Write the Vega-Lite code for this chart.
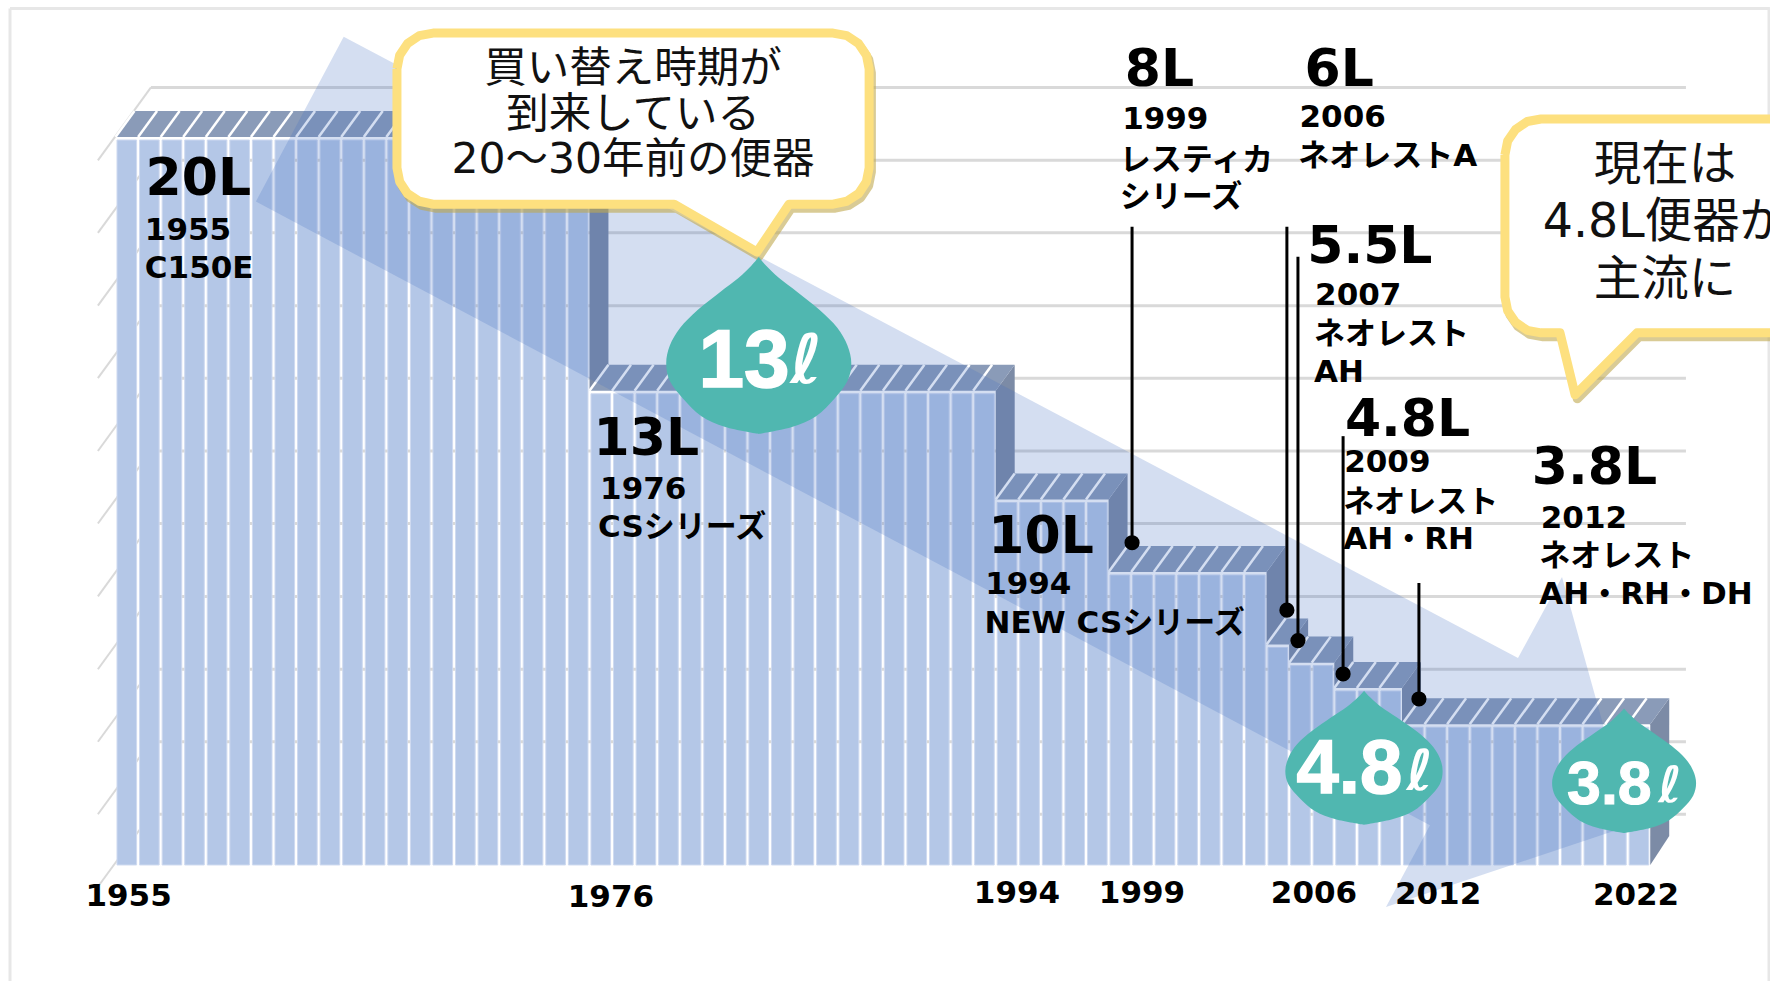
{"$schema":"https://vega.github.io/schema/vega-lite/v6.json","width":1770,"height":981,"padding":0,"autosize":{"type":"none"},"background":"white","config":{"axis":{"disable":true},"view":{"stroke":null}},
"datasets":{
"bars":[{"year":1955,"litres":20},{"year":1956,"litres":20},{"year":1957,"litres":20},{"year":1958,"litres":20},{"year":1959,"litres":20},{"year":1960,"litres":20},{"year":1961,"litres":20},{"year":1962,"litres":20},{"year":1963,"litres":20},{"year":1964,"litres":20},{"year":1965,"litres":20},{"year":1966,"litres":20},{"year":1967,"litres":20},{"year":1968,"litres":20},{"year":1969,"litres":20},{"year":1970,"litres":20},{"year":1971,"litres":20},{"year":1972,"litres":20},{"year":1973,"litres":20},{"year":1974,"litres":20},{"year":1975,"litres":20},{"year":1976,"litres":13},{"year":1977,"litres":13},{"year":1978,"litres":13},{"year":1979,"litres":13},{"year":1980,"litres":13},{"year":1981,"litres":13},{"year":1982,"litres":13},{"year":1983,"litres":13},{"year":1984,"litres":13},{"year":1985,"litres":13},{"year":1986,"litres":13},{"year":1987,"litres":13},{"year":1988,"litres":13},{"year":1989,"litres":13},{"year":1990,"litres":13},{"year":1991,"litres":13},{"year":1992,"litres":13},{"year":1993,"litres":13},{"year":1994,"litres":10},{"year":1995,"litres":10},{"year":1996,"litres":10},{"year":1997,"litres":10},{"year":1998,"litres":10},{"year":1999,"litres":8},{"year":2000,"litres":8},{"year":2001,"litres":8},{"year":2002,"litres":8},{"year":2003,"litres":8},{"year":2004,"litres":8},{"year":2005,"litres":8},{"year":2006,"litres":6},{"year":2007,"litres":5.5},{"year":2008,"litres":5.5},{"year":2009,"litres":4.8},{"year":2010,"litres":4.8},{"year":2011,"litres":4.8},{"year":2012,"litres":3.8},{"year":2013,"litres":3.8},{"year":2014,"litres":3.8},{"year":2015,"litres":3.8},{"year":2016,"litres":3.8},{"year":2017,"litres":3.8},{"year":2018,"litres":3.8},{"year":2019,"litres":3.8},{"year":2020,"litres":3.8},{"year":2021,"litres":3.8},{"year":2022,"litres":3.8}],
"grid":[{"wall":21.45,"front":19.44},{"wall":19.44,"front":17.44},{"wall":17.44,"front":15.43},{"wall":15.43,"front":13.43},{"wall":13.43,"front":11.42},{"wall":11.42,"front":9.42},{"wall":9.42,"front":7.41},{"wall":7.41,"front":5.40},{"wall":5.40,"front":3.40},{"wall":3.40,"front":1.40},{"wall":1.40,"front":-0.60}],
"sides":[{"face":"a","x":1975.5,"low":13.08,"high":20.08},{"face":"a","x":1976.34,"low":13.8,"high":20.8},{"face":"b","x":1993.5,"low":10.08,"high":13.08},{"face":"b","x":1994.34,"low":10.8,"high":13.8},{"face":"c","x":1998.5,"low":8.08,"high":10.08},{"face":"c","x":1999.34,"low":8.8,"high":10.8},{"face":"d","x":2005.5,"low":6.08,"high":8.08},{"face":"d","x":2006.34,"low":6.8,"high":8.8},{"face":"e","x":2006.5,"low":5.58,"high":6.08},{"face":"e","x":2007.34,"low":6.3,"high":6.8},{"face":"f","x":2008.5,"low":4.88,"high":5.58},{"face":"f","x":2009.34,"low":5.6,"high":6.3},{"face":"g","x":2011.5,"low":3.88,"high":4.88},{"face":"g","x":2012.34,"low":4.6,"high":5.6},{"face":"h","x":2022.5,"low":0,"high":3.88},{"face":"h","x":2023.34,"low":0.8,"high":4.6}],
"tops":[{"step":"20L","lit":20.08,"xa":1954.5,"xb":1975.5},{"step":"20L","lit":20.8,"xa":1955.34,"xb":1976.34},{"step":"13L","lit":13.08,"xa":1975.5,"xb":1993.5},{"step":"13L","lit":13.8,"xa":1976.34,"xb":1994.34},{"step":"10L","lit":10.08,"xa":1993.5,"xb":1998.5},{"step":"10L","lit":10.8,"xa":1994.34,"xb":1999.34},{"step":"8L","lit":8.08,"xa":1998.5,"xb":2005.5},{"step":"8L","lit":8.8,"xa":1999.34,"xb":2006.34},{"step":"6L","lit":6.08,"xa":2005.5,"xb":2006.5},{"step":"6L","lit":6.8,"xa":2006.34,"xb":2007.34},{"step":"5.5L","lit":5.58,"xa":2006.5,"xb":2008.5},{"step":"5.5L","lit":6.3,"xa":2007.34,"xb":2009.34},{"step":"4.8L","lit":4.88,"xa":2008.5,"xb":2011.5},{"step":"4.8L","lit":5.6,"xa":2009.34,"xb":2012.34},{"step":"3.8L","lit":3.88,"xa":2011.5,"xb":2022.5},{"step":"3.8L","lit":4.6,"xa":2012.34,"xb":2023.34}],
"arrow":[{"i":1,"x":1964.61,"y":22.85},{"i":2,"x":2016.64,"y":5.71},{"i":3,"x":2018.59,"y":7.945},{"i":4,"x":2021.65,"y":1.10},{"i":5,"x":2010.79,"y":-1.16},{"i":6,"x":2012.74,"y":1.10},{"i":7,"x":1960.72,"y":18.30},{"i":8,"x":1964.61,"y":22.85}],
"callouts":[{"c":"a","i":1,"x":1966.97,"y":21.96},{"c":"a","i":2,"x":1967.09,"y":22.34},{"c":"a","i":3,"x":1967.44,"y":22.66},{"c":"a","i":4,"x":1967.96,"y":22.88},{"c":"a","i":5,"x":1968.57,"y":22.95},{"c":"a","i":6,"x":1986.29,"y":22.95},{"c":"a","i":7,"x":1986.90,"y":22.88},{"c":"a","i":8,"x":1987.42,"y":22.66},{"c":"a","i":9,"x":1987.77,"y":22.34},{"c":"a","i":10,"x":1987.89,"y":21.96},{"c":"a","i":11,"x":1987.89,"y":19.23},{"c":"a","i":12,"x":1987.77,"y":18.85},{"c":"a","i":13,"x":1987.42,"y":18.52},{"c":"a","i":14,"x":1986.90,"y":18.31},{"c":"a","i":15,"x":1986.29,"y":18.23},{"c":"a","i":16,"x":1984.34,"y":18.23},{"c":"a","i":17,"x":1982.92,"y":16.91},{"c":"a","i":18,"x":1979.25,"y":18.23},{"c":"a","i":19,"x":1968.57,"y":18.23},{"c":"a","i":20,"x":1967.96,"y":18.31},{"c":"a","i":21,"x":1967.44,"y":18.52},{"c":"a","i":22,"x":1967.09,"y":18.85},{"c":"a","i":23,"x":1966.97,"y":19.23},{"c":"a","i":24,"x":1966.97,"y":21.96},
{"c":"b","i":1,"x":2016.06,"y":19.59},{"c":"b","i":2,"x":2016.18,"y":19.97},{"c":"b","i":3,"x":2016.53,"y":20.29},{"c":"b","i":4,"x":2017.05,"y":20.51},{"c":"b","i":5,"x":2017.66,"y":20.58},{"c":"b","i":6,"x":2029.14,"y":20.58},{"c":"b","i":7,"x":2029.14,"y":14.68},{"c":"b","i":8,"x":2021.91,"y":14.68},{"c":"b","i":9,"x":2019.17,"y":12.97},{"c":"b","i":10,"x":2018.50,"y":14.68},{"c":"b","i":11,"x":2017.66,"y":14.68},{"c":"b","i":12,"x":2017.05,"y":14.75},{"c":"b","i":13,"x":2016.53,"y":14.97},{"c":"b","i":14,"x":2016.18,"y":15.29},{"c":"b","i":15,"x":2016.06,"y":15.67},{"c":"b","i":16,"x":2016.06,"y":19.59}],
"drops":[{"d":"a","y":16.77,"x1":1983.00,"x2":1983.00},{"d":"a","y":16.53,"x1":1982.67,"x2":1983.33},{"d":"a","y":16.19,"x1":1982.10,"x2":1983.90},{"d":"a","y":15.80,"x1":1981.28,"x2":1984.72},{"d":"a","y":15.31,"x1":1980.29,"x2":1985.70},{"d":"a","y":14.82,"x1":1979.52,"x2":1986.48},{"d":"a","y":14.33,"x1":1979.06,"x2":1986.93},{"d":"a","y":13.84,"x1":1978.90,"x2":1987.10},{"d":"a","y":13.35,"x1":1979.06,"x2":1986.93},{"d":"a","y":12.87,"x1":1979.64,"x2":1986.36},{"d":"a","y":12.38,"x1":1980.46,"x2":1985.54},{"d":"a","y":12.08,"x1":1981.52,"x2":1984.47},{"d":"a","y":11.89,"x1":1983.00,"x2":1983.00},
{"d":"b","y":4.81,"x1":2009.82,"x2":2009.82},{"d":"b","y":4.62,"x1":2009.54,"x2":2010.10},{"d":"b","y":4.36,"x1":2009.05,"x2":2010.58},{"d":"b","y":4.07,"x1":2008.35,"x2":2011.28},{"d":"b","y":3.70,"x1":2007.52,"x2":2012.12},{"d":"b","y":3.33,"x1":2006.85,"x2":2012.78},{"d":"b","y":2.96,"x1":2006.47,"x2":2013.17},{"d":"b","y":2.59,"x1":2006.33,"x2":2013.30},{"d":"b","y":2.22,"x1":2006.47,"x2":2013.17},{"d":"b","y":1.85,"x1":2006.96,"x2":2012.68},{"d":"b","y":1.48,"x1":2007.66,"x2":2011.98},{"d":"b","y":1.26,"x1":2008.56,"x2":2011.07},{"d":"b","y":1.11,"x1":2009.82,"x2":2009.82},
{"d":"c","y":4.32,"x1":2021.34,"x2":2021.34},{"d":"c","y":4.15,"x1":2021.08,"x2":2021.59},{"d":"c","y":3.90,"x1":2020.64,"x2":2022.04},{"d":"c","y":3.63,"x1":2020.00,"x2":2022.68},{"d":"c","y":3.29,"x1":2019.23,"x2":2023.44},{"d":"c","y":2.94,"x1":2018.63,"x2":2024.05},{"d":"c","y":2.60,"x1":2018.28,"x2":2024.40},{"d":"c","y":2.26,"x1":2018.15,"x2":2024.53},{"d":"c","y":1.91,"x1":2018.28,"x2":2024.40},{"d":"c","y":1.57,"x1":2018.72,"x2":2023.96},{"d":"c","y":1.23,"x1":2019.36,"x2":2023.32},{"d":"c","y":1.02,"x1":2020.19,"x2":2022.49},{"d":"c","y":0.88,"x1":2021.34,"x2":2021.34}],
"leaders":[{"x":1999.54,"top":17.61,"dot":8.89},{"x":2006.40,"top":17.61,"dot":7.03},{"x":2006.89,"top":16.78,"dot":6.19},{"x":2008.89,"top":11.83,"dot":5.27},{"x":2012.25,"top":7.78,"dot":4.58}],
"big":[{"t":"20L","x":1955.83,"y":18.48},{"t":"13L","x":1975.68,"y":11.31},{"t":"10L","x":1993.17,"y":8.61},{"t":"8L","x":1999.22,"y":21.50},{"t":"6L","x":2007.18,"y":21.50},{"t":"5.5L","x":2007.30,"y":16.61},{"t":"4.8L","x":2008.97,"y":11.83},{"t":"3.8L","x":2017.25,"y":10.51}],
"small":[{"t":"1955","x":1955.80,"y":17.25},{"t":"C150E","x":1955.80,"y":16.20},{"t":"1976","x":1975.97,"y":10.10},{"t":"CSシリーズ","x":1975.88,"y":9.05},{"t":"1994","x":1993.03,"y":7.48},{"t":"NEW CSシリーズ","x":1993.00,"y":6.40},{"t":"1999","x":1999.10,"y":20.29},{"t":"レスティカ","x":1999.00,"y":19.18},{"t":"シリーズ","x":1999.00,"y":18.15},{"t":"2006","x":2006.96,"y":20.36},{"t":"ネオレストA","x":2006.90,"y":19.28},{"t":"2007","x":2007.65,"y":15.46},{"t":"ネオレスト","x":2007.60,"y":14.38},{"t":"AH","x":2007.60,"y":13.32},{"t":"2009","x":2008.94,"y":10.84},{"t":"ネオレスト","x":2008.90,"y":9.74},{"t":"AH・RH","x":2008.90,"y":8.72},{"t":"2012","x":2017.65,"y":9.30},{"t":"ネオレスト","x":2017.58,"y":8.25},{"t":"AH・RH・DH","x":2017.58,"y":7.20}],
"ticks":[{"t":"1955","x":1955.08,"y":-1.13},{"t":"1976","x":1976.45,"y":-1.16},{"t":"1994","x":1994.44,"y":-1.05},{"t":"1999","x":1999.98,"y":-1.05},{"t":"2006","x":2007.60,"y":-1.05},{"t":"2012","x":2013.10,"y":-1.08},{"t":"2022","x":2021.87,"y":-1.09}],
"say1":[{"t":"買い替え時期が","x":1977.43,"y":21.60},{"t":"到来している","x":1977.43,"y":20.33},{"t":"20～30年前の便器","x":1977.43,"y":19.09}],
"say2":[{"t":"現在は","x":2023.15,"y":18.90},{"t":"4.8L便器が","x":2023.15,"y":17.33},{"t":"主流に","x":2023.15,"y":15.72}],
"frame":[{"x":1949.825,"x2":2027.8,"y":23.63,"y2":23.63},{"x":1949.825,"x2":1949.825,"y":23.63,"y2":-3.2},{"x":2027.76,"x2":2027.76,"y":23.63,"y2":-3.2}]
},
"layer":[
{"data":{"name":"frame"},"mark":{"type":"rule","color":"#e7e7e7","strokeWidth":3},"encoding":{"x":{"field":"x","type":"quantitative","scale":{"domain":[1949.382,2027.805],"nice":false,"zero":false,"padding":0}},"x2":{"field":"x2"},"y":{"field":"y","type":"quantitative","scale":{"domain":[-3.2,23.862],"nice":false,"zero":false,"padding":0}},"y2":{"field":"y2"}}},
{"data":{"name":"grid"},"mark":{"type":"rule","color":"#d9d9d9","strokeWidth":3},"encoding":{"x":{"datum":1956.07,"type":"quantitative"},"x2":{"datum":2024.08},"y":{"field":"wall","type":"quantitative"}}},
{"data":{"name":"grid"},"mark":{"type":"rule","color":"#d9d9d9","strokeWidth":2},"encoding":{"x":{"datum":1956.07,"type":"quantitative"},"x2":{"datum":1953.72},"y":{"field":"wall","type":"quantitative"},"y2":{"field":"front"}}},
{"data":{"name":"sides"},"mark":{"type":"area","orient":"vertical","color":"#7c8ba6"},"encoding":{"x":{"field":"x","type":"quantitative"},"y":{"field":"low","type":"quantitative"},"y2":{"field":"high"},"detail":{"field":"face"}}},
{"data":{"name":"tops"},"mark":{"type":"area","orient":"horizontal","color":"#8a9bb8"},"encoding":{"y":{"field":"lit","type":"quantitative"},"x":{"field":"xa","type":"quantitative"},"x2":{"field":"xb"},"detail":{"field":"step"}}},
{"data":{"name":"bars"},"transform":[{"calculate":"datum.year-0.5","as":"edge"},{"calculate":"datum.year+0.34","as":"edgeBack"},{"calculate":"datum.litres+0.08","as":"lo"},{"calculate":"datum.litres+0.8","as":"hi"}],"mark":{"type":"rule","color":"#ffffff","strokeWidth":2.5},"encoding":{"x":{"field":"edge","type":"quantitative"},"x2":{"field":"edgeBack"},"y":{"field":"lo","type":"quantitative"},"y2":{"field":"hi"}}},
{"data":{"name":"bars"},"mark":{"type":"bar","orient":"vertical","width":19.6,"color":"#b4c7e7","stroke":"#cfdaf0","strokeWidth":1},"encoding":{"x":{"field":"year","type":"quantitative"},"y":{"field":"litres","type":"quantitative","stack":null},"y2":{"datum":0}}},
{"data":{"name":"arrow"},"mark":{"type":"line","fill":"#4472c4","fillOpacity":0.23,"strokeOpacity":0,"strokeWidth":0},"encoding":{"x":{"field":"x","type":"quantitative"},"y":{"field":"y","type":"quantitative"},"order":{"field":"i"}}},
{"data":{"name":"leaders"},"mark":{"type":"rule","color":"#000000","strokeWidth":3},"encoding":{"x":{"field":"x","type":"quantitative"},"y":{"field":"top","type":"quantitative"},"y2":{"field":"dot"}}},
{"data":{"name":"leaders"},"mark":{"type":"point","filled":true,"color":"#000000","opacity":1,"size":230},"encoding":{"x":{"field":"x","type":"quantitative"},"y":{"field":"dot","type":"quantitative"}}},
{"data":{"name":"callouts"},"transform":[{"calculate":"datum.x+0.1","as":"sx"},{"calculate":"datum.y-0.11","as":"sy"}],"mark":{"type":"line","clip":true,"stroke":"#bfa94f","strokeOpacity":0.6,"strokeWidth":9,"strokeJoin":"round"},"encoding":{"x":{"field":"sx","type":"quantitative"},"y":{"field":"sy","type":"quantitative"},"order":{"field":"i"},"detail":{"field":"c"}}},
{"data":{"name":"callouts"},"mark":{"type":"line","clip":true,"fill":"#ffffff","stroke":"#fde07f","strokeWidth":9,"strokeJoin":"round"},"encoding":{"x":{"field":"x","type":"quantitative"},"y":{"field":"y","type":"quantitative"},"order":{"field":"i"},"detail":{"field":"c"}}},
{"data":{"name":"drops"},"mark":{"type":"area","orient":"horizontal","interpolate":"cardinal","color":"#50b7b0"},"encoding":{"y":{"field":"y","type":"quantitative"},"x":{"field":"x1","type":"quantitative"},"x2":{"field":"x2"},"detail":{"field":"d"}}},
{"data":{"name":"big"},"mark":{"type":"text","align":"left","baseline":"alphabetic","font":"DejaVu Sans, Noto Sans CJK JP","fontWeight":"bold","fontSize":52,"color":"#000000"},"encoding":{"x":{"field":"x","type":"quantitative"},"y":{"field":"y","type":"quantitative"},"text":{"field":"t"}}},
{"data":{"name":"small"},"mark":{"type":"text","align":"left","baseline":"alphabetic","font":"DejaVu Sans, Noto Sans CJK JP","fontWeight":"bold","fontSize":31,"color":"#000000"},"encoding":{"x":{"field":"x","type":"quantitative"},"y":{"field":"y","type":"quantitative"},"text":{"field":"t"}}},
{"data":{"name":"ticks"},"mark":{"type":"text","align":"center","baseline":"alphabetic","font":"DejaVu Sans, Noto Sans CJK JP","fontWeight":"bold","fontSize":31,"color":"#000000"},"encoding":{"x":{"field":"x","type":"quantitative"},"y":{"field":"y","type":"quantitative"},"text":{"field":"t"}}},
{"data":{"name":"say1"},"mark":{"type":"text","align":"center","baseline":"alphabetic","font":"DejaVu Sans, Noto Sans CJK JP","fontSize":42.5,"color":"#111111"},"encoding":{"x":{"field":"x","type":"quantitative"},"y":{"field":"y","type":"quantitative"},"text":{"field":"t"}}},
{"data":{"name":"say2"},"mark":{"type":"text","clip":true,"align":"center","baseline":"alphabetic","font":"DejaVu Sans, Noto Sans CJK JP","fontSize":47.5,"color":"#111111"},"encoding":{"x":{"field":"x","type":"quantitative"},"y":{"field":"y","type":"quantitative"},"text":{"field":"t"}}},
{"data":{"values":[{"t":"13","x":1980.33,"y":13.19}]},"mark":{"type":"text","align":"left","baseline":"alphabetic","font":"Liberation Sans","fontWeight":"bold","fontSize":82,"stroke":"#ffffff","strokeWidth":1.5,"color":"#ffffff"},"encoding":{"x":{"field":"x","type":"quantitative"},"y":{"field":"y","type":"quantitative"},"text":{"field":"t"}}},
{"data":{"values":[{"t":"4.8","x":2006.83,"y":1.99}]},"mark":{"type":"text","align":"left","baseline":"alphabetic","font":"Liberation Sans","fontWeight":"bold","fontSize":76,"stroke":"#ffffff","strokeWidth":1.5,"color":"#ffffff"},"encoding":{"x":{"field":"x","type":"quantitative"},"y":{"field":"y","type":"quantitative"},"text":{"field":"t"}}},
{"data":{"values":[{"t":"3.8","x":2018.81,"y":1.67}]},"mark":{"type":"text","align":"left","baseline":"alphabetic","font":"Liberation Sans","fontWeight":"bold","fontSize":61,"stroke":"#ffffff","strokeWidth":1,"color":"#ffffff"},"encoding":{"x":{"field":"x","type":"quantitative"},"y":{"field":"y","type":"quantitative"},"text":{"field":"t"}}},
{"data":{"values":[{"t":"ℓ","x":1984.40,"y":13.30}]},"mark":{"type":"text","align":"left","baseline":"alphabetic","font":"DejaVu Sans","fontWeight":"bold","fontStyle":"italic","fontSize":68,"color":"#ffffff"},"encoding":{"x":{"field":"x","type":"quantitative"},"y":{"field":"y","type":"quantitative"},"text":{"field":"t"}}},
{"data":{"values":[{"t":"ℓ","x":2011.70,"y":2.07}]},"mark":{"type":"text","align":"left","baseline":"alphabetic","font":"DejaVu Sans","fontWeight":"bold","fontStyle":"italic","fontSize":56,"color":"#ffffff"},"encoding":{"x":{"field":"x","type":"quantitative"},"y":{"field":"y","type":"quantitative"},"text":{"field":"t"}}},
{"data":{"values":[{"t":"ℓ","x":2022.85,"y":1.74}]},"mark":{"type":"text","align":"left","baseline":"alphabetic","font":"DejaVu Sans","fontWeight":"bold","fontStyle":"italic","fontSize":50,"color":"#ffffff"},"encoding":{"x":{"field":"x","type":"quantitative"},"y":{"field":"y","type":"quantitative"},"text":{"field":"t"}}}
]}
